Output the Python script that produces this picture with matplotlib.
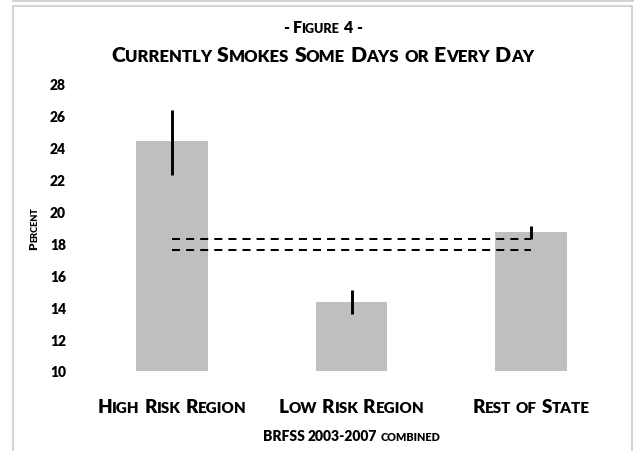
import numpy as np
import matplotlib
matplotlib.use("Agg")
import matplotlib.pyplot as plt
from matplotlib.transforms import IdentityTransform
from matplotlib.lines import Line2D

plt.rcParams['font.family'] = ['Lato', 'DejaVu Sans']

categories = ['High Risk Region', 'Low Risk Region', 'Rest of State']
percent = np.array([24.4, 14.3, 18.7])
ci_low = np.array([22.3, 13.6, 18.3])
ci_high = np.array([26.4, 15.1, 19.1])
state_ci = [17.6, 18.26]

W, H = 637, 452
WEIGHT = 'heavy'
fig = plt.figure(figsize=(W / 100, H / 100), dpi=100)
ax = fig.add_axes([82 / W, 1 - 372 / H, 539 / W, 287 / H])

x = np.arange(len(categories))
ax.bar(x, percent, width=0.4, color='#bfbfbf', zorder=1)
ax.hlines(state_ci, x[0], x[-1], colors='black', linewidth=1.45,
          linestyles=(0, (4, 3)), zorder=2)
ax.errorbar(x, percent, yerr=[percent - ci_low, ci_high - percent],
            fmt='none', ecolor='black', elinewidth=2.1, capsize=0, zorder=3)

ax.set_xlim(-0.5, 2.5)
ax.set_ylim(10, 28)
ax.set_yticks(np.arange(10, 29, 2))
ax.set_xticks([])
ax.tick_params(axis='y', length=0, pad=11.5, labelsize=10)
for lab in ax.get_yticklabels():
    lab.set_fontweight(WEIGHT)
for s in ax.spines.values():
    s.set_visible(False)

renderer = fig.canvas.get_renderer()
px = IdentityTransform()


def small_caps(cx, cy, s, big, small, rotation=0):
    # fake small caps: lowercase letters drawn as smaller capitals
    runs = []
    for ch in s:
        kind = 'sp' if ch == ' ' else ('lo' if ch.islower() else 'up')
        if runs and runs[-1][1] == kind:
            runs[-1][0] += ch
        else:
            runs.append([ch, kind])
    texts, steps = [], []
    for part, kind in runs:
        if kind == 'sp':
            texts.append(None)
            steps.append(0.24 * big * 100 / 72 * len(part))
            continue
        t = fig.text(0, 0, part.upper(), transform=px, fontweight=WEIGHT,
                     size=small if kind == 'lo' else big, ha='left',
                     va='baseline', rotation=rotation, rotation_mode='anchor')
        bb = t.get_window_extent(renderer)
        texts.append(t)
        steps.append(bb.height if rotation else bb.width)
    total = sum(steps)
    pos = -total / 2
    for t, st in zip(texts, steps):
        if t is not None:
            if rotation:
                t.set_position((cx, H - cy + pos))
            else:
                t.set_position((cx + pos, H - cy))
        pos += st


small_caps(322.5, 33, '- Figure 4 -', 11.4, 9.1)
small_caps(322.5, 62, 'Currently Smokes Some Days or Every Day', 15.2, 12.1)

for xi, cat in zip(x, categories):
    cx = ax.transData.transform((xi, 10))[0]
    small_caps(cx, 413, cat, 13.6, 10.9)

axc = ax.transAxes.transform((0.5, 0.5))
small_caps(axc[0], 441, 'BRFSS 2003-2007 combined', 10, 7.8)
small_caps(37.5, H - axc[1], 'Percent', 8.5, 6.6, rotation=90)

# outer frame
grey = '#d4d4d4'
fig.add_artist(Line2D([13, 633], [H - 1.5, H - 1.5], color=grey, lw=1.5, transform=px))
fig.add_artist(Line2D([12.5, 12.5, 631.5, 631.5], [0, H - 6.5, H - 6.5, 0],
                      color=grey, lw=1.5, transform=px))

fig.savefig('out.png', dpi=100)
